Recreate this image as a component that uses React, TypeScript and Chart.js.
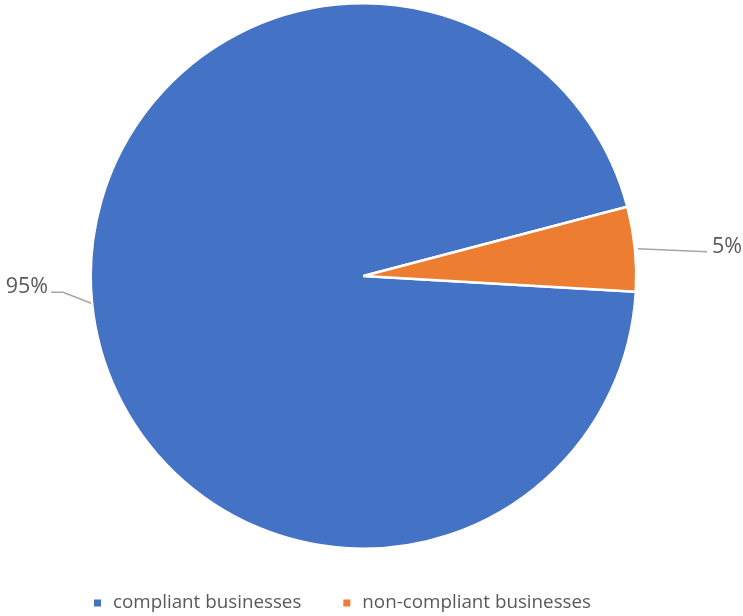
import React, { useEffect, useRef } from "react";
import { Chart, registerables } from "chart.js";

Chart.register(...registerables);

const categories = ["compliant businesses", "non-compliant businesses"];
const shares = [95, 5];
const sliceColors = ["#4472C4", "#ED7D31"];

const FONT = "'Open Sans', 'Liberation Sans', sans-serif";
const TEXT_COLOR = "#595959";
const LEADER_COLOR = "#A6A6A6";

const pieLabelsPlugin = {
  id: "pieLabels",
  afterDatasetsDraw(chart: any) {
    const ctx = chart.ctx as CanvasRenderingContext2D;
    const meta = chart.getDatasetMeta(0);
    const total = shares.reduce((a, b) => a + b, 0);
    ctx.save();
    ctx.font = `21.5px ${FONT}`;
    ctx.fillStyle = TEXT_COLOR;
    ctx.strokeStyle = LEADER_COLOR;
    ctx.lineWidth = 1.5;
    meta.data.forEach((arc: any, i: number) => {
      const p = arc.getProps(["x", "y", "startAngle", "endAngle", "outerRadius"], true);
      const mid = (p.startAngle + p.endAngle) / 2;
      const ax = p.x + Math.cos(mid) * (p.outerRadius + 1);
      const ay = p.y + Math.sin(mid) * (p.outerRadius + 1);
      const text = Math.round((shares[i] / total) * 100) + "%";
      ctx.beginPath();
      if (Math.cos(mid) < 0) {
        const ex = ax - 28, ey = ay - 11;
        ctx.moveTo(ax, ay);
        ctx.lineTo(ex, ey);
        ctx.lineTo(ex - 12, ey);
        ctx.stroke();
        ctx.textAlign = "right";
        ctx.textBaseline = "alphabetic";
        ctx.fillText(text, ex - 15, ey + 1);
      } else {
        const sx = ax + 2;
        const ex = 707, ey = ay + 3;
        ctx.moveTo(sx, ay);
        ctx.lineTo(ex, ey);
        ctx.stroke();
        ctx.textAlign = "left";
        ctx.textBaseline = "alphabetic";
        ctx.fillText(text, ex + 5, ey + 1);
      }
    });
    ctx.restore();
  },
};

const legendPlugin = {
  id: "customLegend",
  afterDraw(chart: any) {
    const ctx = chart.ctx as CanvasRenderingContext2D;
    ctx.save();
    ctx.font = `18.8px ${FONT}`;
    ctx.textBaseline = "middle";
    ctx.textAlign = "left";
    let x = 94;
    const y = 603;
    categories.forEach((name, i) => {
      ctx.fillStyle = sliceColors[i];
      ctx.fillRect(x, y - 3.5, 7, 7);
      x += 7 + 12;
      ctx.fillStyle = TEXT_COLOR;
      ctx.fillText(name, x, y);
      x += ctx.measureText(name).width + 42;
    });
    ctx.restore();
  },
};

export default function App() {
  const ref = useRef<HTMLCanvasElement | null>(null);
  useEffect(() => {
    if (!ref.current) return;
    const chart = new Chart(ref.current, {
      type: "pie",
      data: {
        labels: categories,
        datasets: [
          {
            data: shares,
            backgroundColor: sliceColors,
            borderColor: "#FFFFFF",
            borderWidth: 2.5,
          },
        ],
      },
      options: {
        animation: false,
        responsive: false,
        rotation: 93.3,
        layout: { padding: { top: 2, bottom: 66, left: 89.5, right: 105.5 } },
        plugins: {
          legend: { display: false },
          tooltip: { enabled: false },
        },
      },
      plugins: [pieLabelsPlugin, legendPlugin],
    });
    return () => chart.destroy();
  }, []);
  return (
    <div style={{ position: "fixed", left: 0, top: 0, width: 743, height: 616, background: "#fff" }}>
      <canvas ref={ref} width={743} height={616} style={{ width: 743, height: 616, display: "block" }} />
    </div>
  );
}
